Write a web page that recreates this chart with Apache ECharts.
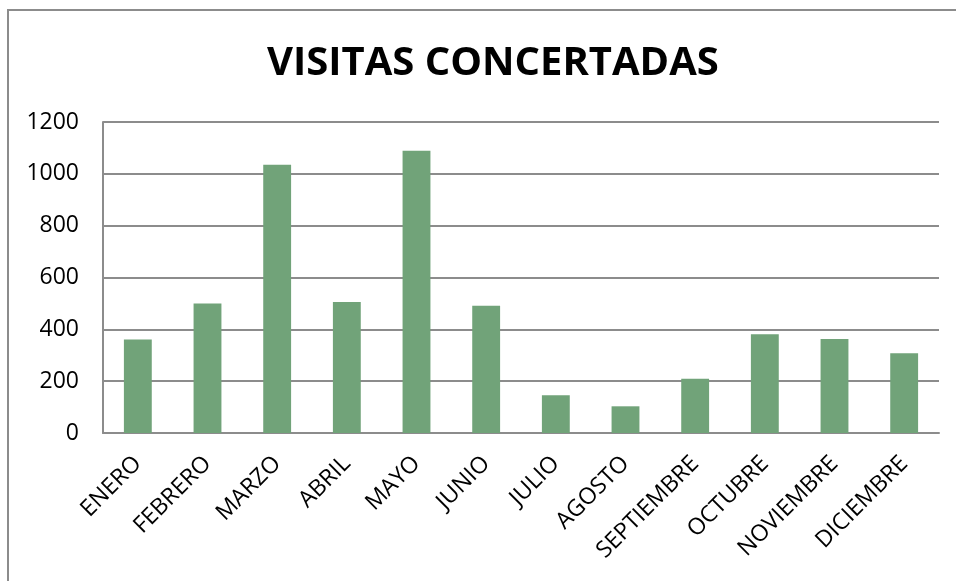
<!DOCTYPE html>
<html>
<head>
<meta charset="utf-8">
<script src="https://cdn.jsdelivr.net/npm/echarts@6/dist/echarts.min.js"></script>
<style>
  html, body { margin: 0; padding: 0; background: #fff; }
  #chart { width: 956px; height: 581px; }
</style>
</head>
<body>
<div id="chart"></div>
<script>
// 月份
const months = ['ENERO', 'FEBRERO', 'MARZO', 'ABRIL', 'MAYO', 'JUNIO', 'JULIO', 'AGOSTO', 'SEPTIEMBRE', 'OCTUBRE', 'NOVIEMBRE', 'DICIEMBRE'];
// visitas por mes
const visitas = [361, 500, 1035, 505, 1089, 491, 146, 103, 209, 381, 363, 308];
const yTicks = [0, 200, 400, 600, 800, 1000, 1200];

const fontName = 'Open Sans';
let myChart = echarts.init(document.getElementById('chart'));
let option = {
  animation: false,
  graphic: [
    {
      // marco del gráfico
      type: 'polyline',
      shape: { points: [[8, 581], [8, 10], [956, 10]] },
      style: { stroke: '#8c8c8c', lineWidth: 2, fill: null },
    },
  ],
  title: {
    text: 'VISITAS CONCERTADAS',
    left: 262,
    top: 39,
    textStyle: {
      fontFamily: fontName,
      fontWeight: 'bold',
      fontSize: 40,
      color: '#000',
    },
  },
  grid: {
    left: 103,
    right: 17,
    top: 122,
    bottom: 148,
  },
  xAxis: {
    type: 'category',
    data: months,
    axisLine: {
      lineStyle: { color: '#8c8c8c', width: 2 },
    },
    axisTick: { show: false },
    axisLabel: {
      rotate: 45,
      interval: 0,
      margin: 27,
      fontFamily: fontName,
      fontSize: 23,
      color: '#000',
    },
  },
  yAxis: {
    type: 'value',
    min: yTicks[0],
    max: yTicks[yTicks.length - 1],
    interval: 200,
    axisLine: { show: true, lineStyle: { color: '#8c8c8c', width: 2 } },
    axisTick: { show: false },
    splitLine: {
      show: true,
      lineStyle: { color: '#8c8c8c', width: 2 },
    },
    axisLabel: {
      margin: 24,
      fontFamily: fontName,
      fontSize: 23,
      color: '#000',
      formatter: function (v) {
        return String(v);
      },
    },
  },
  series: [
    {
      name: 'VISITAS CONCERTADAS',
      type: 'bar',
      barWidth: '40%',
      data: visitas,
      itemStyle: { color: '#71a379' },
    },
  ],
};
myChart.setOption(option);
</script>
</body>
</html>
